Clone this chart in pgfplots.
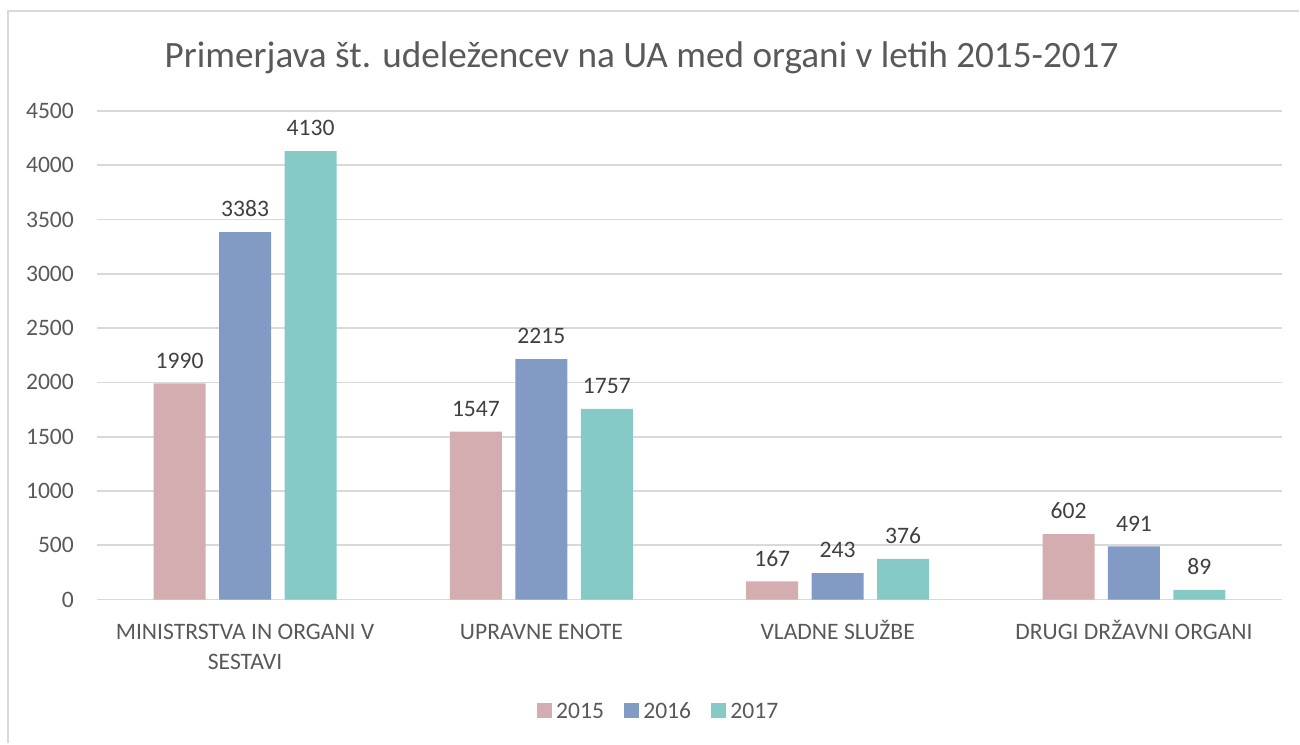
\documentclass[border=0pt]{standalone}
\usepackage{pgfplots}
\pgfplotsset{compat=1.18}
\usepackage{fontspec}
\setmainfont{Carlito}
\definecolor{c15}{HTML}{D4ADB0}
\definecolor{c16}{HTML}{829BC4}
\definecolor{c17}{HTML}{85CAC6}
\definecolor{txt}{HTML}{595959}
\definecolor{lbl}{HTML}{404040}
\definecolor{grid}{HTML}{D9D9D9}
\begin{document}
\begin{tikzpicture}
\begin{axis}[
  at={(0pt,0pt)}, anchor=south west,
  scale only axis, width=593pt, height=244.5pt,
  ybar=6.75pt, bar width=26pt,
  xmin=-0.5, xmax=3.5, ymin=0, ymax=4500,
  xtick={0,1,2,3},
  xticklabels={{\vphantom{\v{Z}}MINISTRSTVA IN ORGANI V\\SESTAVI},{\vphantom{\v{Z}}UPRAVNE ENOTE},{VLADNE SLU\v{Z}BE},{DRUGI DR\v{Z}AVNI ORGANI}},
  xticklabel style={align=center, font=\fontsize{11.8}{15}\selectfont, text=txt, yshift=-7pt},
  ytick={0,500,...,4500},
  yticklabel style={font=\fontsize{11.8}{14}\selectfont, text=txt, xshift=-8pt},
  /pgf/number format/assume math mode=true,
  /pgf/number format/1000 sep={},
  major tick length=0pt,
  xtick style={draw=none}, ytick style={draw=none},
  axis line style={draw=none},
  xmajorgrids=false, ymajorgrids=true,
  y grid style={grid, line width=0.8pt},
  nodes near coords,
  nodes near coords style={font=\fontsize{11.8}{14}\selectfont, text=lbl, yshift=4pt},
  legend style={at={(axis description cs:0.4747,-0.231)}, anchor=center, draw=none, legend columns=3,
    font=\fontsize{11.8}{14}\selectfont, text=txt,
    /tikz/every even column/.append style={column sep=8pt}},
  legend image code/.code={\fill[#1] (0cm,-0.1cm) rectangle (0.27cm,0.17cm);},
  clip=false,
]
\addplot[fill=c15, draw=none] coordinates {(0,1990) (1,1547) (2,167) (3,602)};
\addplot[fill=c16, draw=none] coordinates {(0,3383) (1,2215) (2,243) (3,491)};
\addplot[fill=c17, draw=none] coordinates {(0,4130) (1,1757) (2,376) (3,89)};
\legend{2015,2016,2017}
\end{axis}
\node[font=\fontsize{18.6}{22}\selectfont, text=txt] at (272.5pt,271pt) {Primerjava \v{s}t. udele\v{z}encev na UA med organi v letih 2015-2017};
\draw[grid, line width=0.9pt] (-44.5pt,-72pt) -- (-44.5pt,294.5pt) -- (601.5pt,294.5pt);
\useasboundingbox (-48.5pt,-72pt) rectangle (601.5pt,300pt);
\end{tikzpicture}
\end{document}
